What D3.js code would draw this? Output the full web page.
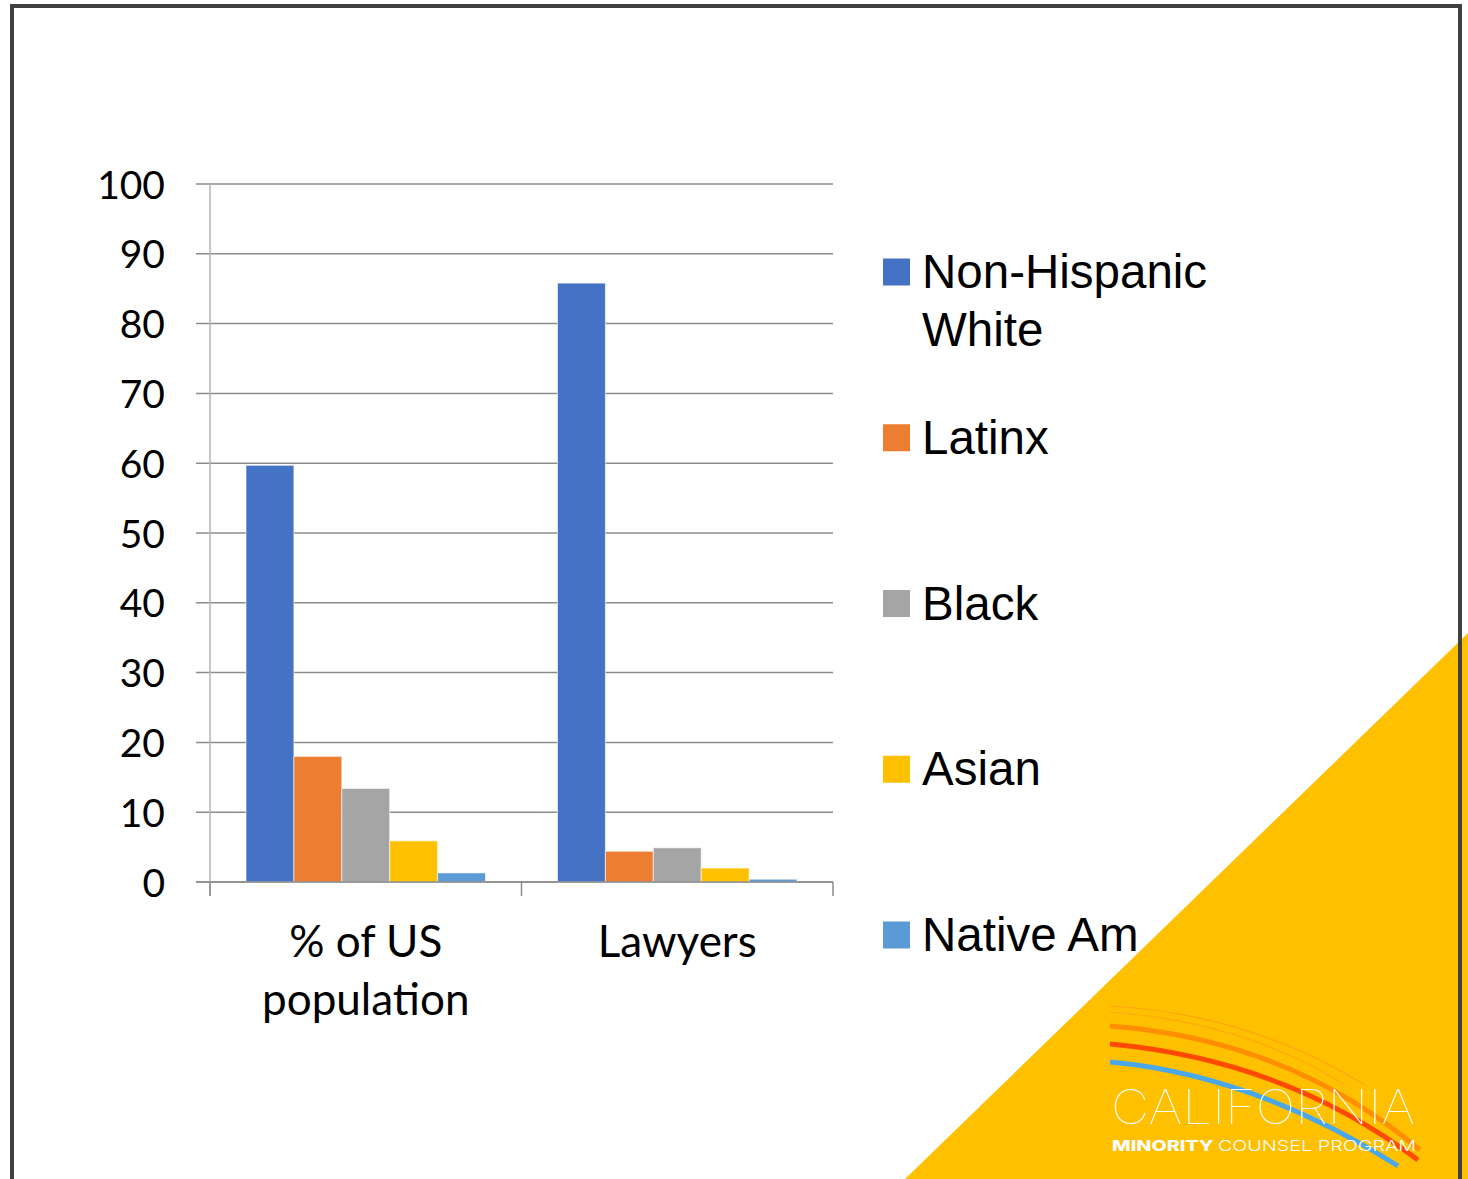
<!DOCTYPE html>
<html>
<head>
<meta charset="utf-8">
<script src="https://cdn.jsdelivr.net/npm/d3@7"></script>
<style>
  html, body { margin: 0; padding: 0; background: #fff; }
  svg { display: block; }
</style>
</head>
<body>
<svg id="chart" width="1468" height="1179"></svg>
<script>
// Share of each group: US population vs. lawyers (percent)
const categories = ["% of US population", "Lawyers"];
const categoryLines = [["% of US", "population"], ["Lawyers"]];
const seriesNames = ["Non-Hispanic White", "Latinx", "Black", "Asian", "Native Am"];
const legendLines = [["Non-Hispanic", "White"], ["Latinx"], ["Black"], ["Asian"], ["Native Am"]];
const nonHispanicWhite = [59.7, 85.8];
const latinx = [18.0, 4.4];
const black = [13.4, 4.9];
const asian = [5.9, 2.0];
const nativeAm = [1.3, 0.4];
const yTicks = [0, 10, 20, 30, 40, 50, 60, 70, 80, 90, 100];
const colors = ["#4472C4", "#ED7D31", "#A5A5A5", "#FFC000", "#5B9BD5"];

const seriesValues = [nonHispanicWhite, latinx, black, asian, nativeAm];

const svg = d3.select("#chart");

// Yellow corner triangle behind the logo
svg.append("path")
  .attr("d", "M1468,633 L1468,1179 L905,1179 Z")
  .attr("fill", "#FFC000");

// Frame
svg.append("path")
  .attr("d", "M12,1179 L12,6 L1460,6 L1460,1179")
  .attr("fill", "none")
  .attr("stroke", "#404040")
  .attr("stroke-width", 4);

// Scales
const plot = { left: 210, right: 833, top: 184, bottom: 882 };
const y = d3.scaleLinear().domain([0, 100]).range([plot.bottom, plot.top]);
const x0 = d3.scaleBand().domain(categories).range([plot.left, plot.right]).padding(0);
const x1 = d3.scaleBand().domain(seriesNames)
  .range([36, x0.bandwidth() - 36]).padding(0);

// Gridlines with left tick stubs
const grid = svg.append("g");
grid.selectAll("line")
  .data(yTicks)
  .join("line")
  .attr("x1", plot.left - 14)
  .attr("x2", plot.right)
  .attr("y1", d => y(d))
  .attr("y2", d => y(d))
  .attr("stroke", "#8c8c8c")
  .attr("stroke-width", 1.5);

// Vertical axis line
svg.append("line")
  .attr("x1", plot.left).attr("x2", plot.left)
  .attr("y1", plot.top).attr("y2", plot.bottom + 14)
  .attr("stroke", "#b4b4b4")
  .attr("stroke-width", 1.5);

// Y-axis labels
const yAxis = d3.axisLeft(y).tickValues(yTicks).tickSize(0).tickPadding(0);
const yg = svg.append("g")
  .attr("transform", `translate(165,0)`)
  .call(yAxis);
yg.select(".domain").remove();
yg.selectAll("text")
  .attr("font-family", "Lato, 'Open Sans', sans-serif")
  .attr("font-size", 39)
  .attr("fill", "#000")
  .attr("dy", "0.36em");

// Bars
const groups = svg.append("g").selectAll("g")
  .data(categories)
  .join("g")
  .attr("transform", d => `translate(${x0(d)},0)`);

groups.selectAll("rect")
  .data((c, ci) => seriesNames.map((s, si) => ({ s, v: seriesValues[si][ci], color: colors[si] })))
  .join("rect")
  .attr("x", d => x1(d.s))
  .attr("width", x1.bandwidth())
  .attr("y", d => y(d.v))
  .attr("height", d => y(0) - y(d.v))
  .attr("fill", d => d.color)
  .attr("stroke", "rgba(255,255,255,0.6)")
  .attr("stroke-width", 1);

// Horizontal axis line and category separators
svg.append("line")
  .attr("x1", plot.left - 14).attr("x2", plot.right)
  .attr("y1", plot.bottom).attr("y2", plot.bottom)
  .attr("stroke", "#8c8c8c")
  .attr("stroke-width", 1.5);

const sepTicks = [plot.left, x0(categories[1]), plot.right];
svg.append("g").selectAll("line")
  .data(sepTicks)
  .join("line")
  .attr("x1", d => d).attr("x2", d => d)
  .attr("y1", plot.bottom).attr("y2", plot.bottom + 14)
  .attr("stroke", "#8c8c8c")
  .attr("stroke-width", 1.5);

// Category labels
categories.forEach((c, i) => {
  const cx = x0(c) + x0.bandwidth() / 2;
  const t = svg.append("text")
    .attr("x", cx)
    .attr("y", 957)
    .attr("text-anchor", "middle")
    .attr("font-family", "Lato, 'Open Sans', sans-serif")
    .attr("font-size", 44)
    .attr("fill", "#000");
  categoryLines[i].forEach((line, li) => {
    t.append("tspan").attr("x", cx).attr("dy", li === 0 ? 0 : 58).text(line);
  });
});

// Legend
const legendY = d3.scalePoint().domain(seriesNames).range([272, 935]);
const legend = svg.append("g");
seriesNames.forEach((s, i) => {
  const cy = legendY(s);
  legend.append("rect")
    .attr("x", 883).attr("y", cy - 13.5)
    .attr("width", 27).attr("height", 27)
    .attr("fill", colors[i]);
  const t = legend.append("text")
    .attr("x", 922)
    .attr("y", cy + 16)
    .attr("font-family", "'Liberation Sans', Arial, sans-serif")
    .attr("font-size", 47.5)
    .attr("fill", "#000");
  legendLines[i].forEach((line, li) => {
    t.append("tspan").attr("x", 922).attr("dy", li === 0 ? 0 : 58).text(line);
  });
});

// California Minority Counsel Program logo
const logo = svg.append("g");
const arcs = [
  { d: "M1110,1006 Q1250,1014 1365,1085", stroke: "#FF9A1A", w: 1.2, o: 0.7 },
  { d: "M1110,1012 Q1245,1022 1345,1085", stroke: "#FF9A1A", w: 1.2, o: 0.6 },
  { d: "M1110,1026 Q1290,1040 1420,1150", stroke: "#FF8C00", w: 5, o: 0.95 },
  { d: "M1110,1044 Q1285,1060 1418,1160", stroke: "#FF4A00", w: 5, o: 1 },
  { d: "M1110,1062 Q1255,1075 1398,1166", stroke: "#4AA8E8", w: 5, o: 1 }
];
arcs.forEach(a => {
  logo.append("path")
    .attr("d", a.d)
    .attr("fill", "none")
    .attr("stroke", a.stroke)
    .attr("stroke-width", a.w)
    .attr("stroke-opacity", a.o);
});

logo.append("text")
  .attr("x", 1111).attr("y", 1124)
  .attr("font-family", "Inter, 'DejaVu Sans', sans-serif")
  .attr("font-weight", 100)
  .attr("font-size", 48)
  .attr("textLength", 304)
  .attr("lengthAdjust", "spacingAndGlyphs")
  .attr("fill", "#fff")
  .text("CALIFORNIA");

const sub = logo.append("text")
  .attr("x", 1112).attr("y", 1151)
  .attr("font-family", "Inter, 'DejaVu Sans', sans-serif")
  .attr("font-size", 15)
  .attr("fill", "#fff")
  .attr("textLength", 304)
  .attr("lengthAdjust", "spacingAndGlyphs");
sub.append("tspan").attr("font-weight", 800).text("MINORITY ");
sub.append("tspan").attr("font-weight", 300).text("COUNSEL PROGRAM");
</script>
</body>
</html>
